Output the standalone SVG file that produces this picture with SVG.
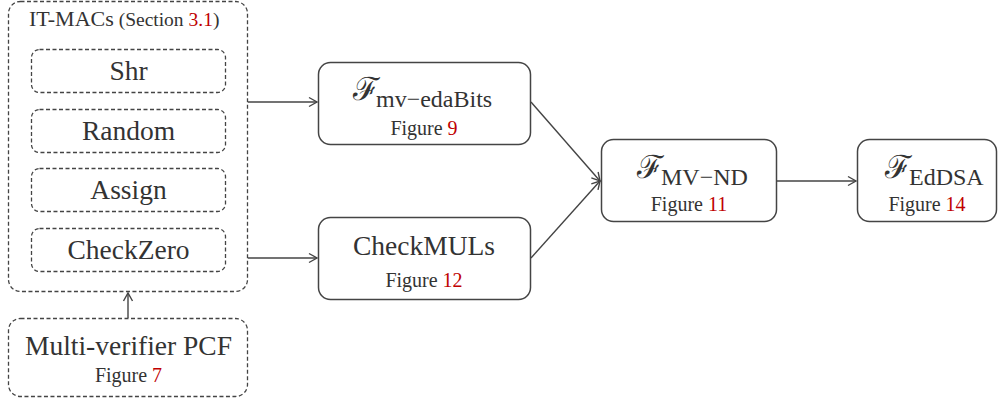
<svg xmlns="http://www.w3.org/2000/svg" width="998" height="402" viewBox="0 0 998 402">
<style>
.dash{fill:#fff;stroke:#444;stroke-width:1.3;stroke-dasharray:4 2.5}
.solid{fill:#fff;stroke:#444;stroke-width:1.5}
text{font-family:"Liberation Serif","DejaVu Serif",serif;fill:#333}
.big{font-size:27.5px}
.fig{font-size:20px}
.red{fill:#c00000}
.cal{font-family:"DejaVu Serif","Liberation Serif",serif;font-size:32px}
.sub{font-size:24px}
.con{stroke:#444;stroke-width:1.4;fill:none;marker-end:url(#ah)}
</style>
<defs>
<marker id="ah" markerWidth="12" markerHeight="12" refX="10" refY="6" orient="auto" markerUnits="userSpaceOnUse">
<path d="M2,1.5 L10,6 L2,10.5" fill="none" stroke="#444" stroke-width="1.4"/>
</marker>
</defs>
<g id="itmacs">
<rect class="dash" x="8.5" y="1.5" width="239" height="290" rx="12"/>
<text x="29" y="26"><tspan font-size="22">IT-MACs</tspan><tspan font-size="19.5"> (Section </tspan><tspan font-size="19.5" class="red">3.1</tspan><tspan font-size="19.5">)</tspan></text>
</g>
<g id="shr"><rect class="dash" x="31.5" y="49.5" width="194" height="43" rx="8"/><text class="big" x="128.5" y="80" text-anchor="middle">Shr</text></g>
<g id="random"><rect class="dash" x="31.5" y="109.5" width="194" height="43" rx="8"/><text class="big" x="128.5" y="140" text-anchor="middle">Random</text></g>
<g id="assign"><rect class="dash" x="31.5" y="168.5" width="194" height="43" rx="8"/><text class="big" x="128.5" y="199" text-anchor="middle">Assign</text></g>
<g id="checkzero"><rect class="dash" x="31.5" y="228.5" width="194" height="43" rx="8"/><text class="big" x="128.5" y="259" text-anchor="middle">CheckZero</text></g>
<g id="pcf"><rect class="dash" x="8.5" y="318.5" width="239" height="78" rx="12"/><text class="big" x="128.5" y="355" text-anchor="middle">Multi-verifier PCF</text><text class="fig" x="128.5" y="382" text-anchor="middle">Figure <tspan class="red">7</tspan></text></g>
<g id="edabits"><rect class="solid" x="318.5" y="62.5" width="212" height="82" rx="12"/><text class="cal" x="353" y="100">ℱ</text><text class="sub" x="376" y="107">mv−edaBits</text><text class="fig" x="424" y="135" text-anchor="middle">Figure <tspan class="red">9</tspan></text></g>
<g id="checkmuls"><rect class="solid" x="318.5" y="217.5" width="212" height="82" rx="12"/><text class="big" x="424" y="255" text-anchor="middle">CheckMULs</text><text class="fig" x="424" y="287" text-anchor="middle">Figure <tspan class="red">12</tspan></text></g>
<g id="mvnd"><rect class="solid" x="601.5" y="139.5" width="175" height="82" rx="12"/><text class="cal" x="637" y="178">ℱ</text><text class="sub" x="661" y="185">MV−ND</text><text class="fig" x="689" y="211" text-anchor="middle">Figure <tspan class="red">11</tspan></text></g>
<g id="eddsa"><rect class="solid" x="857.5" y="139.5" width="139" height="82" rx="12"/><text class="cal" x="885" y="178">ℱ</text><text class="sub" x="909" y="185">EdDSA</text><text class="fig" x="927" y="211" text-anchor="middle">Figure <tspan class="red">14</tspan></text></g>
<g id="connectors">
<line class="con" x1="248" y1="102" x2="317" y2="102"/>
<line class="con" x1="248" y1="258" x2="317" y2="258"/>
<line class="con" x1="531" y1="102" x2="600" y2="181"/>
<line class="con" x1="531" y1="258" x2="600" y2="181"/>
<line class="con" x1="777" y1="181" x2="856" y2="181"/>
<line class="con" x1="128" y1="318" x2="128" y2="293"/>
</g>
</svg>
